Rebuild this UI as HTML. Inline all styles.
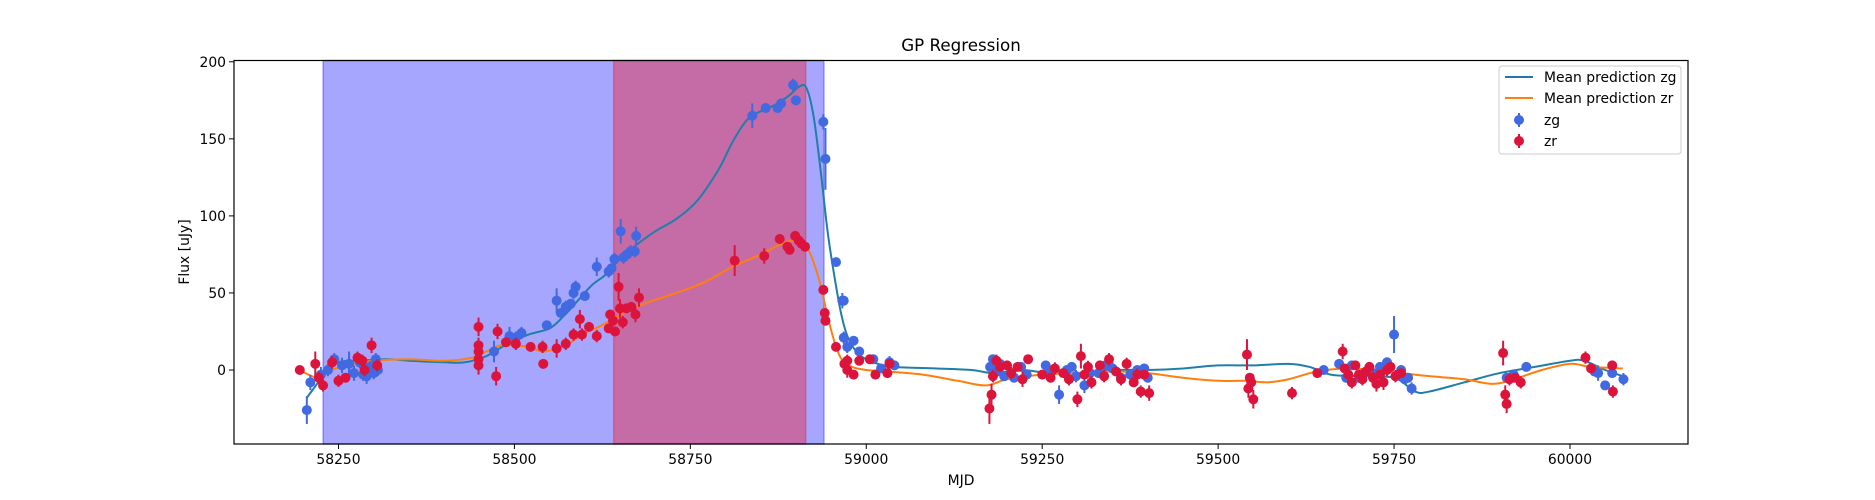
<!DOCTYPE html>
<html><head><meta charset="utf-8">
<style>
body{margin:0;background:#fff;}
svg{display:block;font-family:"DejaVu Sans","Liberation Sans",sans-serif;}
</style></head>
<body>
<svg id="chart" width="1875" height="500" viewBox="0 0 1875 500" xmlns="http://www.w3.org/2000/svg">
<rect width="1875" height="500" fill="#fff"/>
<text x="961" y="51" font-size="16.7" text-anchor="middle">GP Regression</text>
<g id="plot"></g>
<text x="961" y="485" font-size="13.9" text-anchor="middle">MJD</text>
<text transform="translate(189,252) rotate(-90)" font-size="13.9" text-anchor="middle">Flux [uJy]</text>
</svg>
<script>
const xTicks=[58250,58500,58750,59000,59250,59500,59750,60000];
const yTicks=[0,50,100,150,200];
const blueSpan=[58228,58940];
const redSpan=[58641,58914];
const zgMjd=[58205,58210,58225,58235,58244,58255,58265,58272,58280,58285,58290,58295,58300,58303,58306,58471,58493,58502,58510,58546,58560,58566,58573,58580,58584,58587,58600,58617,58634,58638,58642,58651,58655,58660,58665,58671,58673,58838,58857,58874,58879,58896,58900,58939,58942,58957,58966,58968,58968,58973,58982,58990,59010,59021,59033,59040,59176,59180,59186,59190,59196,59210,59220,59228,59255,59260,59274,59285,59292,59298,59310,59318,59330,59340,59350,59362,59375,59385,59395,59400,59650,59672,59682,59690,59700,59708,59720,59730,59740,59750,59756,59760,59765,59770,59775,59910,59920,59938,60035,60040,60050,60060,60076];
const zgFlux=[-26,-8,-3,0,7,3,4,-2,5,-3,-4,2,-2,7,0,12,22,21,24,29,45,37,41,43,50,54,48,67,64,66,72,90,73,75,77,77,87,165,170,170,173,185,175,161,137,70,45,45,21,15,19,12,7,1,5,3,2,7,-1,4,-4,-5,2,-3,3,-1,-16,0,2,-4,-10,-2,-2,3,1,-5,-3,0,1,-5,0,4,-5,3,-5,-2,-2,2,5,23,-3,0,-6,-5,-12,-5,-3,2,-1,-2,-10,-2,-6];
const zgErr=[9,5,5,4,4,5,8,5,4,4,5,4,4,4,4,7,6,4,4,3,8,3,4,3,4,4,3,6,4,3,4,8,4,3,4,4,6,8,3,3,3,4,3,5,20,3,5,3,4,4,3,3,3,3,4,3,3,3,3,3,3,3,3,3,3,3,6,3,3,4,5,3,3,3,4,3,3,3,3,3,3,3,3,3,3,3,3,3,3,12,3,3,3,3,4,3,3,3,3,5,3,3,4];
const zrMjd=[58195,58217,58222,58228,58241,58250,58260,58277,58284,58287,58297,58305,58449,58449,58449,58449,58449,58474,58476,58488,58502,58523,58540,58541,58560,58573,58584,58593,58596,58606,58617,58634,58636,58640,58643,58648,58650,58654,58659,58666,58672,58677,58813,58855,58877,58888,58891,58899,58904,58908,58913,58939,58941,58942,58957,58969,58973,58973,58982,58990,59005,59013,59030,59033,59175,59178,59180,59185,59190,59200,59206,59215,59222,59230,59250,59262,59268,59280,59288,59300,59305,59310,59315,59320,59332,59338,59345,59355,59362,59370,59380,59385,59390,59395,59402,59541,59543,59545,59547,59550,59605,59641,59677,59680,59685,59690,59695,59700,59705,59710,59715,59720,59725,59730,59735,59740,59745,59752,59760,59905,59908,59910,59914,59922,59930,60022,60030,60060,60061];
const zrFlux=[0,4,-5,-10,5,-7,-5,8,6,0,16,3,28,16,12,7,3,-4,25,18,17,15,15,4,14,17,23,33,23,28,22,27,36,32,25,54,40,31,40,41,36,47,71,74,85,80,78,87,84,82,80,52,37,32,15,4,6,0,-3,6,7,-3,-2,4,-25,-16,-4,6,2,3,-2,2,-6,7,-3,-5,1,-2,-6,-19,9,-3,2,-8,3,-4,7,-1,-6,4,-8,-3,-14,-3,-15,10,-12,-5,-8,-19,-15,-2,12,1,-3,-8,3,-3,-6,-1,2,-5,-9,-3,-8,0,2,-4,-2,11,-16,-22,-6,-5,-8,8,1,3,-14];
const zrErr=[2,8,4,4,4,4,3,4,4,4,5,4,6,5,5,6,6,6,5,3,4,3,4,3,6,4,4,6,4,3,4,3,3,3,3,9,6,4,3,3,5,6,10,5,3,3,3,3,3,3,3,3,3,3,3,3,4,5,3,3,3,3,3,3,10,7,4,4,3,3,4,3,5,3,3,3,4,3,4,5,8,3,4,4,3,4,4,3,4,4,3,4,4,3,5,10,6,3,5,6,4,3,5,3,4,4,3,3,4,3,3,4,5,3,5,4,3,4,3,8,6,6,4,3,4,4,3,3,4];
const zgMeanMjd=[58205,58230,58250,58280,58320,58350,58400,58430,58460,58490,58520,58550,58570,58590,58610,58630,58650,58670,58700,58730,58760,58790,58810,58830,58850,58870,58890,58905,58915,58925,58935,58945,58955,58965,58975,58990,59010,59040,59100,59150,59180,59220,59260,59300,59350,59400,59450,59500,59550,59600,59630,59660,59700,59750,59780,59800,59850,59900,59950,60000,60020,60050,60075];
const zgMeanFlux=[-18,-3,5,6,7,6,5,5,9,17,23,27,35,45,55,62,72,80,90,98,110,130,148,162,168,172,178,184,183,165,130,90,60,35,20,10,5,2,1,0,-2,0,-2,-2,0,0,1,3,3,4,2,-3,-4,-5,-14,-14,-8,-2,2,6,6,0,-4];
const zrMeanMjd=[58195,58220,58240,58270,58300,58350,58400,58440,58460,58480,58500,58520,58540,58560,58580,58600,58620,58640,58660,58690,58730,58770,58810,58850,58880,58900,58915,58925,58935,58945,58955,58965,58980,59000,59030,59080,59130,59170,59200,59250,59300,59350,59400,59450,59500,59540,59570,59600,59640,59680,59720,59760,59800,59850,59890,59920,59960,60000,60030,60075];
const zrMeanFlux=[0,-5,0,4,6,7,6,8,12,16,16,15,12,14,18,24,28,33,38,44,50,57,67,75,82,84,80,70,55,35,18,7,2,0,-1,-3,-7,-10,-6,-3,-2,-1,-2,-5,-7,-7,-8,-6,-1,1,0,-2,-4,-6,-9,-6,0,4,2,1];

const L=234,R=1688,T=60.5,B=444;
const xs=v=>338.5+(v-58250)*0.7037;
const ys=v=>370-v*1.541;
const NS='http://www.w3.org/2000/svg';
const plot=document.getElementById('plot');
function mk(tag,attrs,parent){const e=document.createElementNS(NS,tag);for(const k in attrs)e.setAttribute(k,attrs[k]);(parent||plot).appendChild(e);return e;}
const clip=mk('clipPath',{id:'clp'});mk('rect',{x:L,y:T,width:R-L,height:B-T},clip);

function curve(xa,ya){
  const p=xa.map((x,i)=>[xs(x),ys(ya[i])]);
  let d='M'+p[0][0]+','+p[0][1];
  for(let i=0;i<p.length-1;i++){
    const p0=p[i-1]||p[i],p1=p[i],p2=p[i+1],p3=p[i+2]||p2;
    const c1=[p1[0]+(p2[0]-p0[0])/6,p1[1]+(p2[1]-p0[1])/6];
    const c2=[p2[0]-(p3[0]-p1[0])/6,p2[1]-(p3[1]-p1[1])/6];
    d+=' C'+c1+' '+c2+' '+p2;
  }
  return d;
}
const sb=mk('rect',{x:xs(blueSpan[0]),y:T,width:xs(blueSpan[1])-xs(blueSpan[0]),height:B-T,fill:'rgb(0,0,255)','fill-opacity':0.35,stroke:'rgb(0,0,255)','stroke-opacity':0.3,'stroke-width':1.5});


const sr=mk('rect',{x:xs(redSpan[0]),y:T,width:xs(redSpan[1])-xs(redSpan[0]),height:B-T,fill:'rgb(255,0,0)','fill-opacity':0.35,stroke:'rgb(255,0,0)','stroke-opacity':0.3,'stroke-width':1.5});



const gl=mk('g',{'clip-path':'url(#clp)'});
const lzg=mk('path',{d:curve(zgMeanMjd,zgMeanFlux),fill:'none',stroke:'#1f7fa8','stroke-width':2},gl);


const lzr=mk('path',{d:curve(zrMeanMjd,zrMeanFlux),fill:'none',stroke:'#ff7f0e','stroke-width':2},gl);



function pts(mj,fl,er,col,name){
  const g=mk('g',{'clip-path':'url(#clp)'});
  
  
  mj.forEach((m,i)=>{
    const x=xs(m),y=ys(fl[i]);
    const l=mk('line',{x1:x,x2:x,y1:ys(fl[i]-er[i]),y2:ys(fl[i]+er[i]),stroke:col,'stroke-width':2},g);
    
    
    const c=mk('circle',{cx:x,cy:y,r:5,fill:col},g);
    
    
  });
}
pts(zgMjd,zgFlux,zgErr,'#4169e1','zg');
pts(zrMjd,zrFlux,zrErr,'#dc143c','zr');

mk('rect',{x:L,y:T,width:R-L,height:B-T,fill:'none',stroke:'#000','stroke-width':1.2});
xTicks.forEach(t=>{
  const x=xs(t);
  mk('line',{x1:x,x2:x,y1:B,y2:B+5,stroke:'#000','stroke-width':1});
  const tx=mk('text',{x:x,y:B+20,'font-size':13.9,'text-anchor':'middle'});
  tx.textContent=t;
  
  
});
yTicks.forEach(t=>{
  const y=ys(t);
  mk('line',{x1:L-5,x2:L,y1:y,y2:y,stroke:'#000','stroke-width':1});
  const tx=mk('text',{x:L-8,y:y+5,'font-size':13.9,'text-anchor':'end'});
  tx.textContent=t;
  
  
});

const lg=mk('g',{});


mk('rect',{x:1499,y:66,width:182,height:88,rx:3,fill:'#fff','fill-opacity':0.8,stroke:'#ccc'},lg);
const entries=[['line','#1f77b4','Mean prediction zg',77],['line','#ff7f0e','Mean prediction zr',98],['pt','#4169e1','zg',120],['pt','#dc143c','zr',141]];
entries.forEach(e=>{
  const g=mk('g',{},lg);
  
  
  if(e[0]==='line') mk('line',{x1:1505,x2:1533,y1:e[3],y2:e[3],stroke:e[1],'stroke-width':2},g);
  else {mk('line',{x1:1519,x2:1519,y1:e[3]-7,y2:e[3]+7,stroke:e[1],'stroke-width':2},g);mk('circle',{cx:1519,cy:e[3],r:5,fill:e[1]},g);}
  const t=mk('text',{x:1544,y:e[3]+5,'font-size':13.9},g);
  t.textContent=e[2];
});
</script>
</body></html>
